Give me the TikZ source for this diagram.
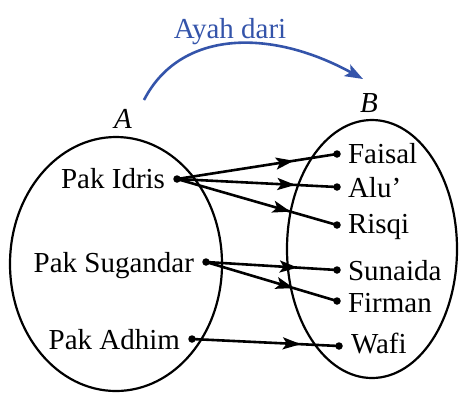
\documentclass[tikz,border=0pt]{standalone}
\usepackage{fontspec}
\setmainfont{Liberation Serif}
\usetikzlibrary{arrows.meta,decorations.markings,shapes.geometric}
\definecolor{arcblue}{RGB}{52,84,170}
\begin{document}
\begin{tikzpicture}[x=1pt,y=-1pt,
  every node/.style={inner sep=0pt,outer sep=0pt},
  txt/.style={font=\fontsize{29}{33}\selectfont},
  setshape/.style={draw,ellipse,line width=2.2pt},
  dot/.style={circle,fill=black,minimum size=7.5pt},
  conn/.style={line width=2.6pt,postaction=decorate,
    decoration={markings,mark=at position #1 with {\arrow{Stealth[length=18pt,width=12pt,inset=4pt]}}}}]
\useasboundingbox (0,0) rectangle (460,392);
% sets
\node[setshape,minimum width=212pt,minimum height=254pt] (setA) at (116,264) {};
\node[setshape,minimum width=170pt,minimum height=258pt] (setB) at (372,249) {};
\node[txt,anchor=base,font=\fontsize{29}{33}\selectfont\itshape] (labA) at (123,128) {A};
\node[txt,anchor=base,font=\fontsize{29}{33}\selectfont\itshape] (labB) at (369,112) {B};
% dots domain
\node[dot] (idris) at (177,179) {};
\node[dot] (sugandar) at (206,262) {};
\node[dot] (adhim) at (192,339) {};
% dots codomain
\node[dot] (faisal) at (337,154) {};
\node[dot] (alu) at (337,187) {};
\node[dot] (risqi) at (337,225) {};
\node[dot] (sunaida) at (337,270) {};
\node[dot] (firman) at (337,301) {};
\node[dot] (wafi) at (339,346) {};
% labels
\node[txt,anchor=base east] (tidris) at (165,188) {Pak Idris};
\node[txt,anchor=base east] (tsugandar) at (194,272) {Pak Sugandar};
\node[txt,anchor=base east] (tadhim) at (180,349) {Pak Adhim};
\node[txt,anchor=base west] (tfaisal) at (348,163) {Faisal};
\node[txt,anchor=base west] (talu) at (348,197) {Alu’};
\node[txt,anchor=base west] (trisqi) at (348,233) {Risqi};
\node[txt,anchor=base west] (tsunaida) at (348,280) {Sunaida};
\node[txt,anchor=base west] (tfirman) at (348,312) {Firman};
\node[txt,anchor=base west] (twafi) at (351,353) {Wafi};
% connectors
\draw[conn=0.73] (idris.center) -- (faisal.center);
\draw[conn=0.74] (idris.center) -- (alu.center);
\draw[conn=0.71] (idris.center) -- (risqi.center);
\draw[conn=0.70] (sugandar.center) -- (sunaida.center);
\draw[conn=0.67] (sugandar.center) -- (firman.center);
\draw[conn=0.74] (adhim.center) -- (wafi.center);
% relation arrow
\coordinate (arcS) at (144,100);
\coordinate (arcE) at (363,79);
\draw[arcblue,line width=2.6pt,-{Stealth[length=18pt,width=13pt,inset=4pt]}] (arcS) .. controls (180,30) and (270,28) .. (arcE);
\node[txt,anchor=base,text=arcblue] (rel) at (230,38) {Ayah dari};
\end{tikzpicture}
\end{document}
